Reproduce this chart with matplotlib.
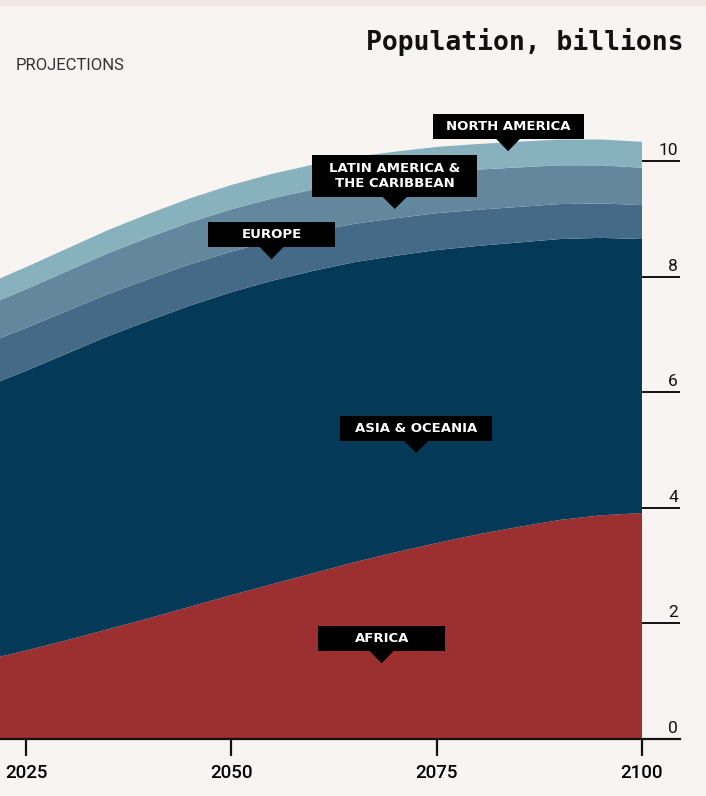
import matplotlib.pyplot as plt
from matplotlib.patches import Rectangle, Polygon

# UN-style medium projection, billions
years = [2021, 2022, 2025, 2030, 2035, 2040, 2045, 2050, 2055, 2060, 2065,
         2070, 2075, 2080, 2085, 2090, 2095, 2100]
africa = [1.39, 1.43, 1.53, 1.71, 1.90, 2.09, 2.29, 2.49, 2.68, 2.87, 3.06,
          3.23, 3.39, 3.54, 3.67, 3.79, 3.87, 3.91]
asia_oceania = [4.74, 4.77, 4.84, 4.96, 5.07, 5.15, 5.21, 5.24, 5.25, 5.23, 5.19,
                5.13, 5.07, 4.99, 4.92, 4.86, 4.80, 4.74]
europe = [0.745, 0.744, 0.742, 0.736, 0.730, 0.723, 0.714, 0.703, 0.691, 0.678, 0.664,
          0.650, 0.637, 0.626, 0.616, 0.605, 0.596, 0.587]
latin_america = [0.656, 0.658, 0.669, 0.688, 0.705, 0.718, 0.727, 0.731, 0.732, 0.730, 0.724,
                 0.716, 0.706, 0.695, 0.683, 0.671, 0.659, 0.647]
north_america = [0.375, 0.377, 0.383, 0.392, 0.401, 0.409, 0.415, 0.421, 0.426, 0.430, 0.434,
                 0.437, 0.440, 0.443, 0.445, 0.446, 0.447, 0.448]

series = [africa, asia_oceania, europe, latin_america, north_america]
colors = ["#9c3031", "#043a57", "#456a87", "#63889e", "#88b1be"]

y_ticks = [0, 2, 4, 6, 8, 10]
x_ticks = [2025, 2050, 2075, 2100]

# labels: text, box centre (year, value), box size (px), pointer tip value
labels = [
    ("NORTH AMERICA", 2083.7, 10.60, 151, 25, 10.17),
    ("LATIN AMERICA &\nTHE CARIBBEAN", 2069.9, 9.74, 165, 42, 9.17),
    ("EUROPE", 2054.9, 8.73, 127, 25, 8.30),
    ("ASIA & OCEANIA", 2072.5, 5.37, 152, 25, 4.95),
    ("AFRICA", 2068.3, 1.74, 127, 25, 1.31),
]

bg = "#f8f4f1"
W, H = 706, 796
fig = plt.figure(figsize=(W / 100, H / 100), dpi=100)
fig.patch.set_facecolor(bg)
fig.patches.append(Rectangle((0, 1 - 6 / H), 1, 6 / H, transform=fig.transFigure,
                             facecolor="#f3e7e4", edgecolor="none"))

x0, x1 = 2021.83, 2104.63
ymax = 11.0
ax = fig.add_axes([0, (H - 739) / H, 680 / W, 57.8 * ymax / H])
ax.set_facecolor(bg)
ax.set_xlim(x0, x1)
ax.set_ylim(0, ymax)

ax.stackplot(years, *series, colors=colors, linewidth=0)

for s in ["top", "left", "right"]:
    ax.spines[s].set_visible(False)
ax.spines["bottom"].set_linewidth(1.6)
ax.spines["bottom"].set_color("#111111")
ax.set_yticks([])
ax.set_xticks(x_ticks)
ax.set_xticklabels([str(t) for t in x_ticks], fontfamily="Roboto", fontsize=13.5,
                   fontweight="medium")
ax.tick_params(axis="x", direction="out", length=12, width=1.6, color="#111111", pad=6)

# y ticks on the right, drawn as short rules
px_year = (x1 - x0) / 680
ax.hlines(y_ticks[1:], 2100, x1, colors="#111111", linewidth=1.4, clip_on=False)
for t in y_ticks:
    ax.text(x1 - 2 * px_year, t + 3 / 57.8, str(t), ha="right", va="bottom",
            fontsize=12.5, fontfamily="Roboto", color="#111111")

for text, cx, cy, bw, bh, tip in labels:
    w = bw * px_year
    h = bh / 57.8
    ax.add_patch(Rectangle((cx - w / 2, cy - h / 2), w, h, facecolor="black",
                           edgecolor="none", zorder=5))
    base = cy - h / 2
    tw = 12 * px_year
    ax.add_patch(Polygon([(cx - tw, base), (cx + tw, base), (cx, tip)], closed=True,
                         facecolor="black", edgecolor="none", zorder=5))
    ax.text(cx, cy, text, ha="center", va="center", color="white", fontsize=9.5,
            fontweight="bold", fontfamily="DejaVu Sans", linespacing=1.25, zorder=6)

fig.text(683 / W, 1 - 42 / H, "Population, billions", ha="right", va="center",
         fontsize=19, fontweight="bold", fontfamily="DejaVu Sans Mono", color="#111111")
fig.text(16 / W, 1 - 66 / H, "PROJECTIONS", ha="left", va="center", fontsize=12,
         fontfamily="Roboto", color="#333333")

fig.savefig("out.png", dpi=100, facecolor=bg)
